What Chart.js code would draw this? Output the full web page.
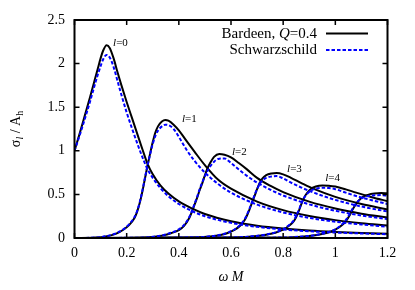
<!DOCTYPE html>
<html>
<head>
<meta charset="utf-8">
<script src="https://cdn.jsdelivr.net/npm/chart.js@4.4.0/dist/chart.umd.min.js"></script>
<style>
  html, body { margin: 0; padding: 0; background: #fff; }
</style>
</head>
<body>
<canvas id="chart" width="415" height="290"></canvas>
<script>
// partial absorption cross sections
const l0X       = [0, 0.02, 0.04, 0.06, 0.08, 0.09, 0.10, 0.11, 0.123, 0.135, 0.15, 0.165, 0.18, 0.20, 0.22, 0.24, 0.26, 0.28, 0.30, 0.33, 0.36, 0.40, 0.45, 0.50, 0.60, 0.70, 0.80, 0.90, 1.00, 1.10, 1.20];
const l0Bardeen = [1.00, 1.20, 1.41, 1.62, 1.84, 1.95, 2.06, 2.15, 2.21, 2.18, 2.06, 1.90, 1.75, 1.56, 1.38, 1.20, 1.02, 0.85, 0.73, 0.60, 0.51, 0.42, 0.34, 0.275, 0.192, 0.141, 0.108, 0.085, 0.069, 0.057, 0.048];
const l0Schw    = [1.00, 1.18, 1.37, 1.57, 1.78, 1.88, 1.97, 2.05, 2.10, 2.07, 1.96, 1.80, 1.64, 1.44, 1.26, 1.09, 0.93, 0.79, 0.69, 0.57, 0.48, 0.39, 0.31, 0.25, 0.174, 0.128, 0.098, 0.077, 0.063, 0.052, 0.043];

const l1X       = [0, 0.08, 0.12, 0.16, 0.19, 0.21, 0.23, 0.24, 0.25, 0.26, 0.27, 0.28, 0.29, 0.30, 0.31, 0.32, 0.335, 0.348, 0.36, 0.38, 0.40, 0.43, 0.46, 0.50, 0.55, 0.60, 0.70, 0.80, 0.90, 1.00, 1.10, 1.20];
const l1Bardeen = [0, 0.005, 0.018, 0.05, 0.10, 0.15, 0.23, 0.30, 0.40, 0.53, 0.68, 0.83, 0.97, 1.10, 1.21, 1.28, 1.335, 1.353, 1.345, 1.30, 1.235, 1.11, 0.99, 0.835, 0.67, 0.565, 0.418, 0.32, 0.253, 0.205, 0.17, 0.143];
const l1Schw    = [0, 0.005, 0.02, 0.055, 0.105, 0.16, 0.24, 0.31, 0.41, 0.54, 0.69, 0.83, 0.96, 1.08, 1.17, 1.23, 1.28, 1.30, 1.295, 1.25, 1.16, 1.01, 0.885, 0.75, 0.62, 0.52, 0.383, 0.293, 0.231, 0.1875, 0.155, 0.13];

const l2X       = [0, 0.25, 0.30, 0.34, 0.37, 0.40, 0.42, 0.44, 0.45, 0.46, 0.47, 0.48, 0.49, 0.50, 0.51, 0.52, 0.535, 0.555, 0.575, 0.60, 0.63, 0.66, 0.70, 0.75, 0.80, 0.90, 1.00, 1.10, 1.20];
const l2Bardeen = [0, 0.004, 0.012, 0.03, 0.055, 0.09, 0.14, 0.23, 0.30, 0.38, 0.46, 0.55, 0.63, 0.72, 0.80, 0.86, 0.93, 0.963, 0.955, 0.925, 0.86, 0.79, 0.69, 0.60, 0.527, 0.417, 0.338, 0.279, 0.234];
const l2Schw    = [0, 0.004, 0.013, 0.033, 0.06, 0.10, 0.15, 0.24, 0.31, 0.39, 0.47, 0.56, 0.64, 0.71, 0.77, 0.82, 0.875, 0.91, 0.912, 0.86, 0.785, 0.715, 0.635, 0.555, 0.488, 0.386, 0.3125, 0.258, 0.217];

const l3X       = [0, 0.45, 0.52, 0.56, 0.59, 0.615, 0.635, 0.65, 0.66, 0.67, 0.68, 0.69, 0.70, 0.71, 0.72, 0.735, 0.755, 0.775, 0.80, 0.83, 0.87, 0.92, 1.00, 1.10, 1.20];
const l3Bardeen = [0, 0.005, 0.018, 0.035, 0.06, 0.095, 0.14, 0.195, 0.25, 0.32, 0.40, 0.48, 0.56, 0.63, 0.68, 0.72, 0.74, 0.745, 0.73, 0.69, 0.63, 0.56, 0.472, 0.39, 0.328];
const l3Schw    = [0, 0.005, 0.019, 0.037, 0.065, 0.10, 0.15, 0.205, 0.26, 0.33, 0.41, 0.49, 0.56, 0.62, 0.66, 0.69, 0.705, 0.71, 0.683, 0.635, 0.578, 0.517, 0.437, 0.361, 0.304];

const l4X       = [0, 0.60, 0.68, 0.73, 0.77, 0.80, 0.825, 0.84, 0.85, 0.86, 0.87, 0.88, 0.89, 0.905, 0.925, 0.95, 0.975, 1.00, 1.04, 1.08, 1.14, 1.20];
const l4Bardeen = [0, 0.005, 0.018, 0.035, 0.06, 0.095, 0.145, 0.19, 0.24, 0.31, 0.39, 0.46, 0.51, 0.56, 0.59, 0.603, 0.60, 0.59, 0.558, 0.52, 0.468, 0.422];
const l4Schw    = [0, 0.005, 0.019, 0.037, 0.065, 0.10, 0.155, 0.20, 0.255, 0.32, 0.40, 0.46, 0.50, 0.54, 0.565, 0.575, 0.573, 0.56, 0.52, 0.482, 0.433, 0.39];

const l5X       = [0, 0.80, 0.88, 0.93, 0.97, 1.00, 1.025, 1.04, 1.055, 1.065, 1.075, 1.09, 1.105, 1.125, 1.15, 1.175, 1.20];
const l5Bardeen = [0, 0.005, 0.018, 0.035, 0.06, 0.095, 0.145, 0.19, 0.26, 0.32, 0.37, 0.43, 0.47, 0.495, 0.51, 0.515, 0.512];
const l5Schw    = [0, 0.005, 0.019, 0.037, 0.065, 0.10, 0.155, 0.205, 0.275, 0.33, 0.38, 0.43, 0.46, 0.48, 0.49, 0.492, 0.485];

const xTickVals = [0, 0.2, 0.4, 0.6, 0.8, 1.0, 1.2];
const xTickLabels = ['0', '0.2', '0.4', '0.6', '0.8', '1', '1.2'];
const yTickVals = [0, 0.5, 1.0, 1.5, 2.0, 2.5];
const yTickLabels = ['0', '0.5', '1', '1.5', '2', '2.5'];

// curve labels l=0..4 (data coords of left/middle of text)
const curveLabels = ['0', '1', '2', '3', '4'];
const curveLabelX = [0.148, 0.412, 0.604, 0.815, 0.961];
const curveLabelY = [2.236, 1.365, 0.986, 0.791, 0.688];

const serif = '"Liberation Serif", "DejaVu Serif", serif';

function toPoints(xs, ys) {
  return xs.map((x, i) => ({ x: x, y: ys[i] }));
}

const curves = [
  [l0X, l0Bardeen, l0Schw],
  [l1X, l1Bardeen, l1Schw],
  [l2X, l2Bardeen, l2Schw],
  [l3X, l3Bardeen, l3Schw],
  [l4X, l4Bardeen, l4Schw],
  [l5X, l5Bardeen, l5Schw]
];

const datasets = [];
curves.forEach(c => {
  datasets.push({
    label: 'Bardeen, Q=0.4',
    data: toPoints(c[0], c[1]),
    borderColor: '#000',
    borderWidth: 2,
    order: 1
  });
  datasets.push({
    label: 'Schwarzschild',
    data: toPoints(c[0], c[2]),
    borderColor: '#0000ff',
    borderWidth: 2,
    borderDash: [3.5, 2],
    order: 0
  });
});

function drawParts(ctx, parts, x, y, align) {
  let w = 0;
  parts.forEach(p => { ctx.font = p.font; w += ctx.measureText(p.text).width; });
  let cx = x;
  if (align === 'right') cx = x - w;
  if (align === 'center') cx = x - w / 2;
  parts.forEach(p => {
    ctx.font = p.font;
    ctx.fillText(p.text, cx, y + (p.dy || 0));
    cx += ctx.measureText(p.text).width;
  });
}

const decorations = {
  id: 'decorations',
  afterDraw(chart) {
    const { ctx, chartArea: a, scales: { x, y } } = chart;
    ctx.save();
    ctx.strokeStyle = '#000';
    ctx.fillStyle = '#000';

    // inner ticks on all four sides
    ctx.lineWidth = 1.5;
    ctx.beginPath();
    xTickVals.forEach(v => {
      const px = x.getPixelForValue(v);
      ctx.moveTo(px, a.bottom); ctx.lineTo(px, a.bottom - 5);
      ctx.moveTo(px, a.top); ctx.lineTo(px, a.top + 5);
    });
    yTickVals.forEach(v => {
      const py = y.getPixelForValue(v);
      ctx.moveTo(a.left, py); ctx.lineTo(a.left + 5, py);
      ctx.moveTo(a.right, py); ctx.lineTo(a.right - 5, py);
    });
    ctx.stroke();

    ctx.lineWidth = 2;
    ctx.strokeRect(a.left, a.top, a.right - a.left, a.bottom - a.top);

    // curve labels
    ctx.textBaseline = 'middle';
    curveLabels.forEach((n, i) => {
      drawParts(ctx, [
        { text: 'l', font: 'italic 11px ' + serif },
        { text: '=' + n, font: '11px ' + serif }
      ], x.getPixelForValue(curveLabelX[i]), y.getPixelForValue(curveLabelY[i]), 'left');
    });

    // legend
    ctx.textBaseline = 'alphabetic';
    drawParts(ctx, [
      { text: 'Bardeen, ', font: '15px ' + serif },
      { text: 'Q', font: 'italic 15px ' + serif },
      { text: '=0.4', font: '15px ' + serif }
    ], 317, 38, 'right');
    drawParts(ctx, [{ text: 'Schwarzschild', font: '15px ' + serif }], 317, 54, 'right');

    ctx.lineWidth = 2;
    ctx.beginPath();
    ctx.moveTo(326, 33.5); ctx.lineTo(368, 33.5);
    ctx.stroke();
    ctx.strokeStyle = '#0000ff';
    ctx.setLineDash([3.5, 2]);
    ctx.beginPath();
    ctx.moveTo(326, 50); ctx.lineTo(368, 50);
    ctx.stroke();
    ctx.setLineDash([]);

    // x axis title
    drawParts(ctx, [
      { text: 'ω', font: 'italic 14px ' + serif },
      { text: ' M', font: 'italic 14px ' + serif }
    ], (a.left + a.right) / 2, 281, 'center');

    // y axis title
    ctx.translate(20, (a.top + a.bottom) / 2);
    ctx.rotate(-Math.PI / 2);
    drawParts(ctx, [
      { text: 'σ', font: '14px ' + serif },
      { text: 'l', font: 'italic 10px ' + serif, dy: 3 },
      { text: ' / A', font: '14px ' + serif },
      { text: 'h', font: '10px ' + serif, dy: 3 }
    ], 0, 0, 'center');

    ctx.restore();
  }
};

new Chart(document.getElementById('chart'), {
  type: 'line',
  data: { datasets: datasets },
  options: {
    responsive: false,
    animation: false,
    devicePixelRatio: 1,
    layout: { padding: { left: 0, right: 27.5, top: 20, bottom: 0 } },
    plugins: { legend: { display: false }, tooltip: { enabled: false } },
    elements: {
      point: { radius: 0 },
      line: { cubicInterpolationMode: 'monotone', fill: false }
    },
    scales: {
      x: {
        type: 'linear',
        min: 0,
        max: 1.2,
        grid: { display: false, drawTicks: false },
        border: { display: false },
        afterBuildTicks: s => { s.ticks = xTickVals.map(v => ({ value: v })); },
        afterFit: s => { s.height = 52; },
        ticks: {
          autoSkip: false,
          maxRotation: 0,
          padding: 7,
          color: '#000',
          font: { family: serif, size: 14 },
          callback: (v, i) => xTickLabels[i]
        }
      },
      y: {
        type: 'linear',
        min: 0,
        max: 2.5,
        grid: { display: false, drawTicks: false },
        border: { display: false },
        afterBuildTicks: s => { s.ticks = yTickVals.map(v => ({ value: v })); },
        afterFit: s => { s.width = 74.5; },
        ticks: {
          padding: 9.5,
          color: '#000',
          font: { family: serif, size: 14 },
          callback: (v, i) => yTickLabels[i]
        }
      }
    }
  },
  plugins: [decorations]
});
</script>
</body>
</html>
